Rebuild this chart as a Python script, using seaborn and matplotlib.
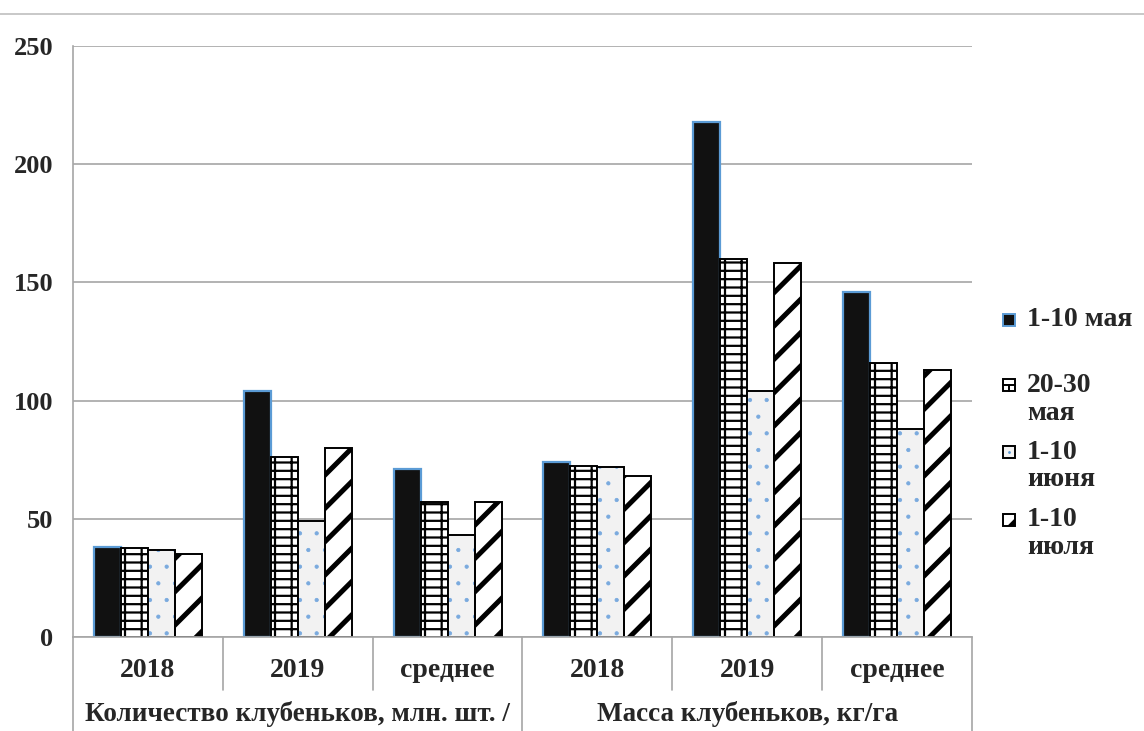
import pandas as pd
import seaborn as sns
import matplotlib.pyplot as plt
from matplotlib.patches import Rectangle, Polygon
from matplotlib.lines import Line2D
import matplotlib.transforms as mtransforms

# данные
groups = ['Количество клубеньков, млн. шт. /', 'Масса клубеньков, кг/га']
years = ['2018', '2019', 'среднее']
series = ['1-10 мая', '20-30 мая', '1-10 июня', '1-10 июля']
legend_lines = [['1-10 мая'], ['20-30', 'мая'], ['1-10', 'июня'], ['1-10', 'июля']]

may_1_10 = [38, 104, 71, 74, 218, 146]
may_20_30 = [37.5, 76, 57, 72.5, 160, 116]
june_1_10 = [37, 49, 43, 72, 104, 88]
july_1_10 = [35, 80, 57, 68, 158, 113]

values = [may_1_10, may_20_30, june_1_10, july_1_10]

keys = [f'{g}|{y}' for g in groups for y in years]
rows = []
for s, vals in zip(series, values):
    for k, v in zip(keys, vals):
        rows.append({'cat': k, 'series': s, 'value': v})
df = pd.DataFrame(rows)

sns.set_style('white')
plt.rcParams['font.family'] = ['Liberation Serif', 'DejaVu Serif']
plt.rcParams['font.weight'] = 'bold'
plt.rcParams['hatch.linewidth'] = 1.3

grey = '#a6a6a6'
blue = '#5b9bd5'
faces = ['#111111', 'white', '#f2f2f2', 'white']

W, H = 1144, 731
fig = plt.figure(figsize=(W / 100, H / 100), dpi=100)
ax = fig.add_axes([73 / W, 1 - 637 / H, 899 / W, 591 / H])

sns.barplot(data=df, x='cat', y='value', hue='series', order=keys,
            hue_order=series, palette=faces, width=0.72, gap=0,
            saturation=1, legend=False, ax=ax)

# стили столбцов
for i, cont in enumerate(ax.containers):
    for p in cont:
        if i == 0:
            p.set_edgecolor(blue)
            p.set_linewidth(1.6)
        elif i == 1:
            p.set_edgecolor('black')
            p.set_hatch('-+')
            p.set_linewidth(1.4)
            if hasattr(p, 'set_hatch_linewidth'):
                p.set_hatch_linewidth(1.6)
        elif i == 2:
            p.set_edgecolor('#7aaade')
            p.set_hatch('.')
            p.set_linewidth(0)
            if hasattr(p, 'set_hatch_linewidth'):
                p.set_hatch_linewidth(0.6)
            ax.add_patch(Rectangle(p.get_xy(), p.get_width(), p.get_height(),
                                   fill=False, edgecolor='black', lw=1.4))
        else:
            p.set_edgecolor('black')
            p.set_hatch('/')
            p.set_linewidth(1.4)
            if hasattr(p, 'set_hatch_linewidth'):
                p.set_hatch_linewidth(3.6)

ax.set_xlim(-0.5, 5.5)
ax.set_ylim(0, 250)
ax.set_yticks(range(0, 251, 50))
ax.yaxis.grid(True, color=grey, lw=1.2)
ax.set_axisbelow(True)
for side in ['top', 'right']:
    ax.spines[side].set_visible(False)
for side in ['left', 'bottom']:
    ax.spines[side].set_color(grey)
    ax.spines[side].set_linewidth(1.2)
ax.tick_params(axis='y', length=5, color=grey, pad=9, labelsize=19)
ax.set_xticks(range(6))
ax.set_xticklabels(years * 2, fontsize=20)
ax.tick_params(axis='x', length=0, pad=15)
ax.set_xlabel('')
ax.set_ylabel('')

# разделители категорий
trans = mtransforms.blended_transform_factory(ax.transData, ax.transAxes)
for x in [0.5, 1.5, 3.5, 4.5]:
    ax.add_line(Line2D([x, x], [0, -0.09], transform=trans, color=grey,
                       lw=1.2, clip_on=False))
for x in [-0.5, 2.5, 5.5]:
    ax.add_line(Line2D([x, x], [0, -0.2], transform=trans, color=grey,
                       lw=1.2, clip_on=False))
for j, g in enumerate(groups):
    ax.text(1 + 3 * j, -0.131, g, transform=trans, ha='center', va='center',
            fontsize=19.5)

# верхняя рамка
fig.add_artist(Line2D([0, 1], [1 - 14 / H, 1 - 14 / H], color='#bfbfbf', lw=1.2))

# легенда (вручную, как в исходнике: значок у первой строки)
def fx(px):
    return px / W

def fy(py):
    return 1 - py / H

entry_y = [320, 385, 452, 520]
line_gap = 28
hx, hs = 1003, 12
for i, (y0, lines) in enumerate(zip(entry_y, legend_lines)):
    for k, txt in enumerate(lines):
        fig.text(fx(1027), fy(y0 + k * line_gap), txt, ha='left',
                 va='center', fontsize=20)
    x0, x1 = fx(hx), fx(hx + hs)
    ya, yb = fy(y0 + hs / 2), fy(y0 - hs / 2)
    if i == 0:
        fig.add_artist(Rectangle((x0, ya), x1 - x0, yb - ya, facecolor='#111111',
                                 edgecolor=blue, lw=1.4))
    elif i == 1:
        fig.add_artist(Rectangle((x0, ya), x1 - x0, yb - ya, facecolor='white',
                                 edgecolor='black', lw=1.4))
        ym = (ya + yb) / 2
        fig.add_artist(Line2D([x0, x1], [ym, ym], color='black', lw=1.4))
        fig.add_artist(Line2D([(x0 + x1) / 2] * 2, [ya, ym], color='black', lw=1.4))
    elif i == 2:
        fig.add_artist(Rectangle((x0, ya), x1 - x0, yb - ya, facecolor='#f2f2f2',
                                 edgecolor='black', lw=1.4))
        fig.add_artist(Line2D([(x0 + x1) / 2], [(ya + yb) / 2], marker='.',
                              ms=2, color=blue))
    else:
        fig.add_artist(Rectangle((x0, ya), x1 - x0, yb - ya, facecolor='white',
                                 edgecolor='black', lw=1.4))
        fig.add_artist(Polygon([(x0, ya), (x1, ya), (x1, yb - (yb - ya) * 0.35),
                                (x0 + (x1 - x0) * 0.35, ya)],
                               closed=True, facecolor='black', lw=0))

fig.savefig('out.png', dpi=100)
